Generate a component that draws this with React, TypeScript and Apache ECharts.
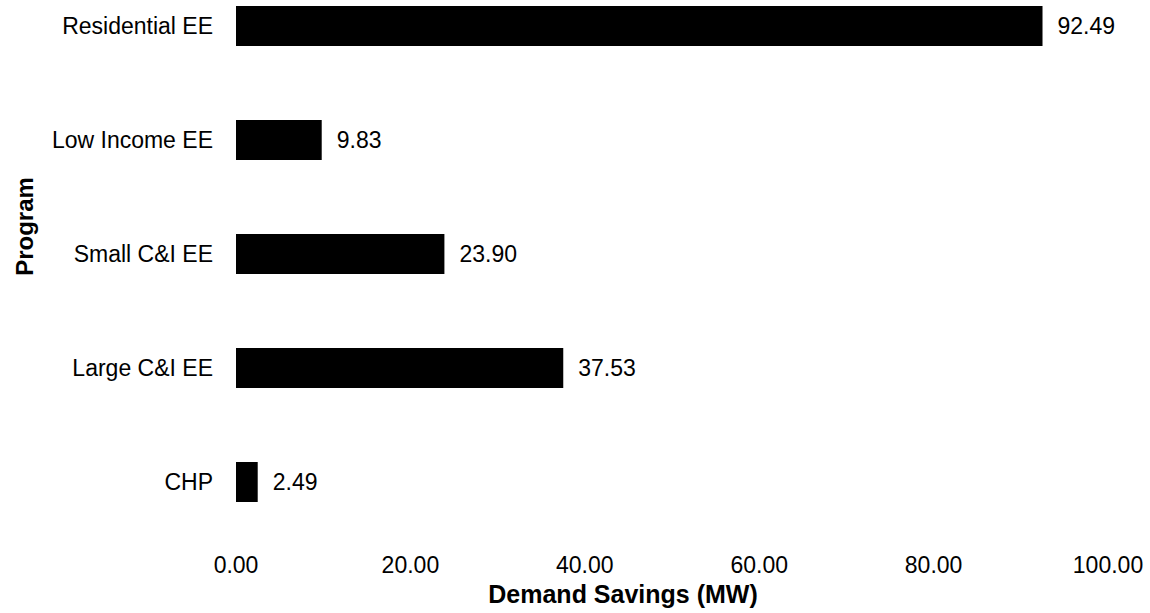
import React, { useEffect, useRef } from "react";
import * as echarts from "echarts";

// Program names, top to bottom
const programs = ["Residential EE", "Low Income EE", "Small C&I EE", "Large C&I EE", "CHP"];
// Demand savings per program, in MW
const demandSavings = [92.49, 9.83, 23.9, 37.53, 2.49];
// Value axis range and step
const axisMin = 0;
const axisMax = 100;
const axisStep = 20;

const FONT = "'Liberation Sans', Arial, Helvetica, sans-serif";
const FONT_SIZE = 23;
// The canvas extends above the page so the first category band starts above the top edge
const SHIFT = 31;

export default function App() {
  const ref = useRef<HTMLDivElement>(null);

  useEffect(() => {
    if (!ref.current) return;
    const chart = echarts.init(ref.current, undefined, { renderer: "svg" });
    chart.setOption({
      animation: false,
      backgroundColor: "#ffffff",
      textStyle: { fontFamily: FONT },
      grid: { left: 236, right: 42, top: 0, bottom: 74, containLabel: false },
      xAxis: {
        type: "value",
        min: axisMin,
        max: axisMax,
        interval: axisStep,
        axisLine: { show: false },
        axisTick: { show: false },
        splitLine: { show: false },
        axisLabel: {
          formatter: (v: number) => v.toFixed(2),
          fontSize: FONT_SIZE,
          fontFamily: FONT,
          color: "#000",
          margin: 14,
        },
      },
      yAxis: {
        type: "category",
        inverse: true,
        data: programs,
        axisLine: { show: false },
        axisTick: { show: false },
        splitLine: { show: false },
        axisLabel: {
          fontSize: FONT_SIZE,
          fontFamily: FONT,
          color: "#000",
          margin: 23,
        },
      },
      series: [
        {
          type: "bar",
          data: demandSavings,
          barWidth: 40,
          itemStyle: { color: "#000" },
          label: {
            show: true,
            position: "right",
            distance: 15,
            formatter: (p: any) => Number(p.value).toFixed(2),
            fontSize: FONT_SIZE,
            fontFamily: FONT,
            color: "#000",
          },
        },
      ],
      graphic: [
        {
          type: "text",
          x: 623,
          y: 593.5 + SHIFT,
          style: {
            text: "Demand Savings (MW)",
            fontSize: 25,
            fontWeight: "bold",
            fontFamily: FONT,
            fill: "#000",
            align: "center",
            verticalAlign: "middle",
          },
        },
        {
          type: "text",
          x: 24,
          y: 226.5 + SHIFT,
          rotation: Math.PI / 2,
          style: {
            text: "Program",
            fontSize: 24,
            fontWeight: "bold",
            fontFamily: FONT,
            fill: "#000",
            align: "center",
            verticalAlign: "middle",
          },
        },
      ],
    });
    return () => chart.dispose();
  }, []);

  return (
    <div
      ref={ref}
      style={{
        position: "fixed",
        left: 0,
        top: -SHIFT,
        width: 1150,
        height: 613 + SHIFT,
        background: "#fff",
      }}
    />
  );
}
